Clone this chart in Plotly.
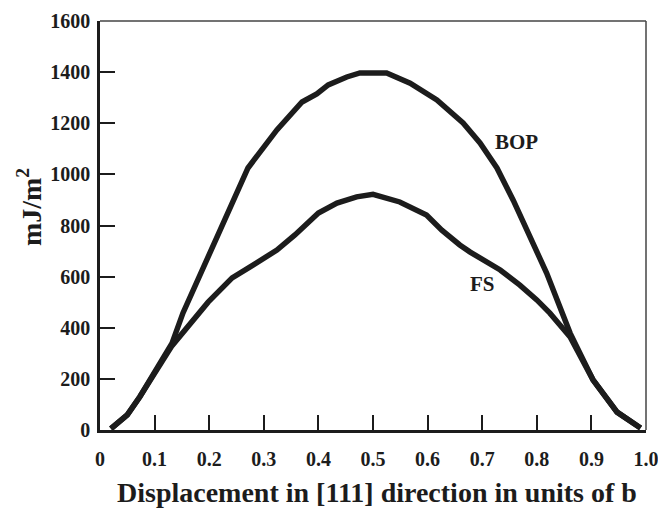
import plotly.graph_objects as go

bop_x = [0.02, 0.05, 0.073, 0.10, 0.132, 0.152, 0.18, 0.22, 0.271, 0.324, 0.37, 0.397, 0.418, 0.452, 0.476, 0.525,
         0.568, 0.617, 0.665, 0.696, 0.727, 0.757, 0.818, 0.861, 0.903, 0.947, 0.99]
bop_y = [5, 59, 130, 225, 340, 458, 595, 782, 1025, 1174, 1283, 1315, 1350, 1381, 1397, 1397,
         1357, 1291, 1201, 1123, 1025, 898, 614, 379, 196, 70, 8]

fs_x = [0.02, 0.05, 0.073, 0.10, 0.132, 0.198, 0.242, 0.275, 0.324, 0.357, 0.40, 0.434, 0.47, 0.50, 0.549,
        0.598, 0.626, 0.659, 0.678, 0.733, 0.769, 0.80, 0.824, 0.861, 0.903, 0.947, 0.99]
fs_y = [5, 59, 130, 225, 330, 500, 595, 638, 704, 763, 849, 888, 912, 922, 892,
        841, 782, 724, 696, 626, 567, 509, 457, 364, 196, 70, 8]

x_ticks = [0, 0.1, 0.2, 0.3, 0.4, 0.5, 0.6, 0.7, 0.8, 0.9, 1.0]
x_tick_text = ["0", "0.1", "0.2", "0.3", "0.4", "0.5", "0.6", "0.7", "0.8", "0.9", "1.0"]
y_ticks = [0, 200, 400, 600, 800, 1000, 1200, 1400, 1600]

FONT = "Liberation Serif"
INK = "#1c1c1c"

fig = go.Figure()
for xs, ys, name in [(bop_x, bop_y, "BOP"), (fs_x, fs_y, "FS")]:
    fig.add_trace(go.Scatter(x=xs, y=ys, mode="lines", name=name,
                             line=dict(color=INK, width=5.5, shape="linear"),
                             showlegend=False))

fig.update_layout(
    width=658, height=508,
    margin=dict(l=100, r=12, t=21, b=78, autoexpand=False),
    paper_bgcolor="white", plot_bgcolor="white",
    font=dict(family=FONT, color=INK),
)
tf = dict(family=FONT, size=20, color=INK, weight="bold")
fig.update_xaxes(range=[0, 1.0], tickvals=x_ticks, ticktext=x_tick_text,
                 ticks="inside", ticklen=15, tickwidth=2, tickcolor=INK,
                 showline=True, linewidth=2.5, linecolor=INK, mirror=False,
                 showgrid=False, zeroline=False, ticklabeloverflow="allow",
                 automargin=False, tickfont=tf, ticklabelstandoff=9)
fig.update_yaxes(range=[0, 1600], tickvals=y_ticks,
                 ticks="inside", ticklen=15, tickwidth=2, tickcolor=INK,
                 showline=True, linewidth=2.5, linecolor=INK, mirror=False,
                 showgrid=False, zeroline=False, ticklabeloverflow="allow",
                 automargin=False, tickfont=tf, ticklabelstandoff=3)

# top and right frame
fig.add_shape(type="line", xref="paper", yref="paper", x0=0, x1=1, y0=1, y1=1,
              line=dict(color="#444444", width=1.5))
fig.add_shape(type="line", xref="paper", yref="paper", x0=1, x1=1, y0=0, y1=1,
              line=dict(color="#444444", width=1.5))

fig.add_annotation(x=0.762, y=1127, text="<b>BOP</b>", showarrow=False,
                   font=dict(family=FONT, size=21, color=INK))
fig.add_annotation(x=0.701, y=573, text="<b>FS</b>", showarrow=False,
                   font=dict(family=FONT, size=21, color=INK))

fig.add_annotation(xref="paper", yref="paper", x=0.508, y=-0.152, yanchor="middle",
                   text="<b>Displacement in [111] direction in units of b</b>",
                   showarrow=False, font=dict(family=FONT, size=28, color=INK))
fig.add_annotation(xref="paper", yref="paper", x=-0.13, y=0.545, xanchor="center",
                   yanchor="middle",
                   text="<b>mJ/m<sup>2</sup></b>", textangle=-90,
                   showarrow=False, font=dict(family=FONT, size=28, color=INK))

fig.write_html("out.html", post_script="document.body.style.margin='0px';",
               config={"displayModeBar": False})
